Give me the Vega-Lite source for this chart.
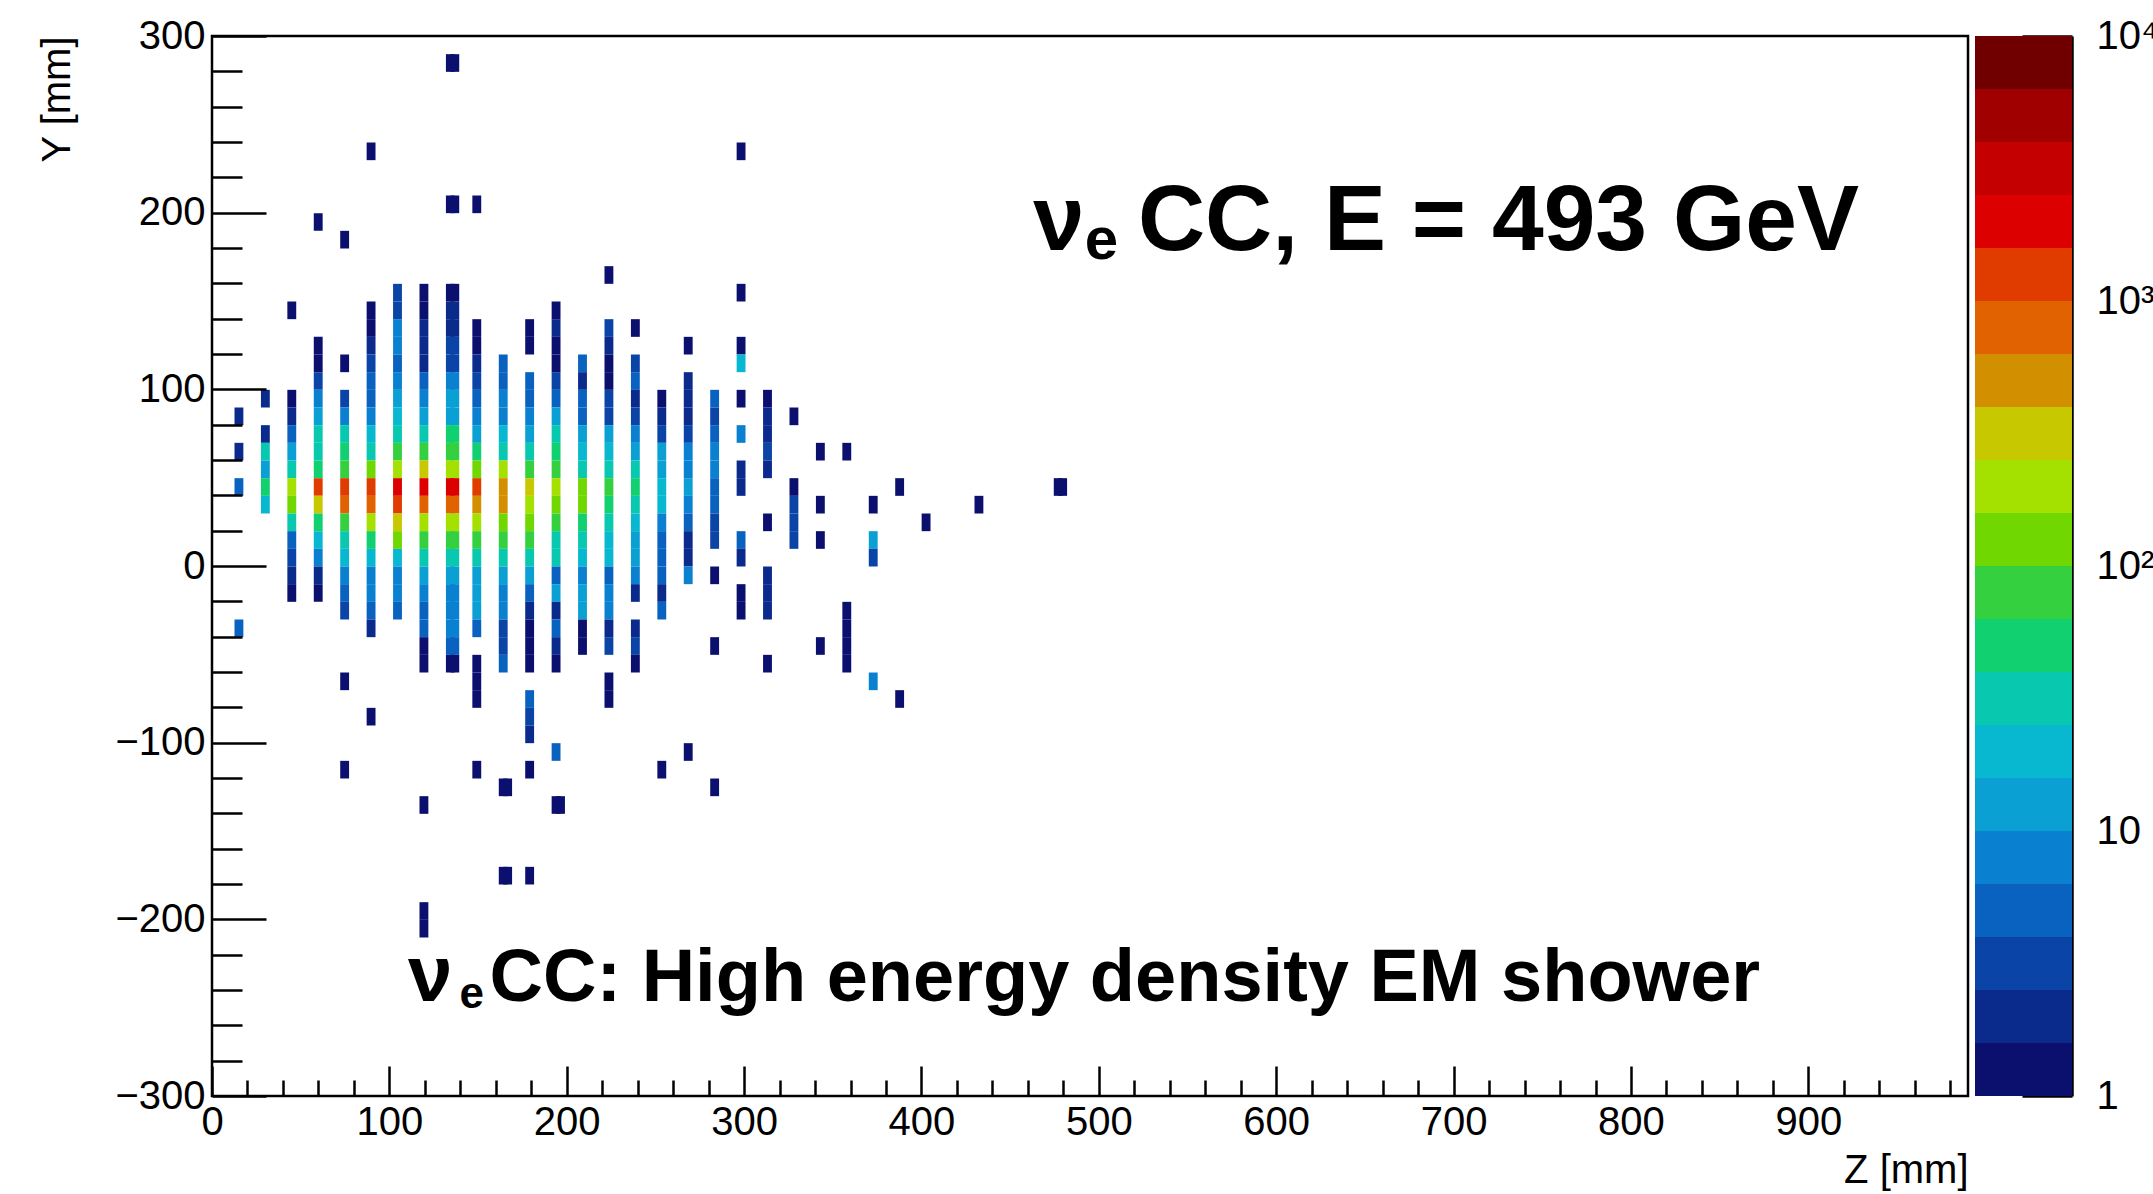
{
  "$schema": "https://vega.github.io/schema/vega-lite/v6.json",
  "background": "white",
  "padding": {"left": 36, "top": 14, "right": 0, "bottom": 0},
  "config": {
    "font": "Liberation Sans",
    "view": {"stroke": null},
    "concat": {"spacing": 5},
    "axis": {"labelFont": "Liberation Sans", "titleFont": "Liberation Sans", "labelColor": "#000", "titleColor": "#000", "tickColor": "#000", "domainColor": "#000", "grid": false}
  },
  "datasets": {
    "hits": [
      {"z":12.4,"y":80,"e":2},{"z":12.4,"y":60,"e":2},{"z":12.4,"y":40,"e":5},{"z":12.4,"y":-40,"e":5},
      {"z":27.3,"y":90,"e":2},{"z":27.3,"y":70,"e":2},{"z":27.3,"y":60,"e":32},{"z":27.3,"y":50,"e":13},{"z":27.3,"y":40,"e":50},{"z":27.3,"y":30,"e":20},
      {"z":42.2,"y":140,"e":1.3},{"z":42.2,"y":90,"e":1.3},{"z":42.2,"y":80,"e":2},{"z":42.2,"y":70,"e":5},{"z":42.2,"y":60,"e":13},{"z":42.2,"y":50,"e":32},{"z":42.2,"y":40,"e":200},{"z":42.2,"y":30,"e":130},{"z":42.2,"y":20,"e":32},{"z":42.2,"y":10,"e":5},{"z":42.2,"y":0,"e":3.2},{"z":42.2,"y":-10,"e":2},{"z":42.2,"y":-20,"e":1.3},
      {"z":57.1,"y":190,"e":1.3},{"z":57.1,"y":120,"e":1.3},{"z":57.1,"y":110,"e":1.3},{"z":57.1,"y":100,"e":3.2},{"z":57.1,"y":90,"e":8},{"z":57.1,"y":80,"e":13},{"z":57.1,"y":70,"e":32},{"z":57.1,"y":60,"e":32},{"z":57.1,"y":50,"e":50},{"z":57.1,"y":40,"e":1300},{"z":57.1,"y":30,"e":320},{"z":57.1,"y":20,"e":50},{"z":57.1,"y":10,"e":20},{"z":57.1,"y":0,"e":8},{"z":57.1,"y":-10,"e":2},{"z":57.1,"y":-20,"e":1.3},
      {"z":72.0,"y":180,"e":1.3},{"z":72.0,"y":110,"e":1.3},{"z":72.0,"y":90,"e":3.2},{"z":72.0,"y":80,"e":8},{"z":72.0,"y":70,"e":32},{"z":72.0,"y":60,"e":50},{"z":72.0,"y":50,"e":80},{"z":72.0,"y":40,"e":1300},{"z":72.0,"y":30,"e":800},{"z":72.0,"y":20,"e":80},{"z":72.0,"y":10,"e":32},{"z":72.0,"y":0,"e":20},{"z":72.0,"y":-10,"e":8},{"z":72.0,"y":-20,"e":5},{"z":72.0,"y":-30,"e":3.2},{"z":72.0,"y":-70,"e":1.3},{"z":72.0,"y":-120,"e":1.3},
      {"z":86.9,"y":230,"e":1.3},{"z":86.9,"y":140,"e":1.3},{"z":86.9,"y":130,"e":1.3},{"z":86.9,"y":120,"e":2},{"z":86.9,"y":110,"e":3.2},{"z":86.9,"y":100,"e":5},{"z":86.9,"y":90,"e":5},{"z":86.9,"y":80,"e":8},{"z":86.9,"y":70,"e":20},{"z":86.9,"y":60,"e":32},{"z":86.9,"y":50,"e":130},{"z":86.9,"y":40,"e":1300},{"z":86.9,"y":30,"e":800},{"z":86.9,"y":20,"e":200},{"z":86.9,"y":10,"e":50},{"z":86.9,"y":0,"e":20},{"z":86.9,"y":-10,"e":8},{"z":86.9,"y":-20,"e":8},{"z":86.9,"y":-30,"e":5},{"z":86.9,"y":-40,"e":2},{"z":86.9,"y":-90,"e":1.3},
      {"z":101.8,"y":150,"e":3.2},{"z":101.8,"y":140,"e":3.2},{"z":101.8,"y":130,"e":8},{"z":101.8,"y":120,"e":8},{"z":101.8,"y":110,"e":5},{"z":101.8,"y":100,"e":8},{"z":101.8,"y":90,"e":13},{"z":101.8,"y":80,"e":20},{"z":101.8,"y":70,"e":32},{"z":101.8,"y":60,"e":80},{"z":101.8,"y":50,"e":200},{"z":101.8,"y":40,"e":2000},{"z":101.8,"y":30,"e":1300},{"z":101.8,"y":20,"e":320},{"z":101.8,"y":10,"e":130},{"z":101.8,"y":0,"e":20},{"z":101.8,"y":-10,"e":8},{"z":101.8,"y":-20,"e":8},{"z":101.8,"y":-30,"e":5},
      {"z":116.7,"y":150,"e":1.3},{"z":116.7,"y":140,"e":1.3},{"z":116.7,"y":130,"e":2},{"z":116.7,"y":120,"e":2},{"z":116.7,"y":110,"e":2},{"z":116.7,"y":100,"e":5},{"z":116.7,"y":90,"e":8},{"z":116.7,"y":80,"e":13},{"z":116.7,"y":70,"e":32},{"z":116.7,"y":60,"e":80},{"z":116.7,"y":50,"e":320},{"z":116.7,"y":40,"e":2000},{"z":116.7,"y":30,"e":800},{"z":116.7,"y":20,"e":200},{"z":116.7,"y":10,"e":80},{"z":116.7,"y":0,"e":32},{"z":116.7,"y":-10,"e":13},{"z":116.7,"y":-20,"e":8},{"z":116.7,"y":-30,"e":5},{"z":116.7,"y":-40,"e":5},{"z":116.7,"y":-50,"e":1.3},{"z":116.7,"y":-60,"e":1.3},{"z":116.7,"y":-140,"e":1.3},{"z":116.7,"y":-200,"e":1.3},{"z":116.7,"y":-210,"e":1.3},
      {"z":131.6,"y":280,"e":1.3},{"z":131.6,"y":200,"e":1.3},{"z":131.6,"y":150,"e":1.3},{"z":131.6,"y":140,"e":2},{"z":131.6,"y":130,"e":2},{"z":131.6,"y":120,"e":3.2},{"z":131.6,"y":110,"e":3.2},{"z":131.6,"y":100,"e":8},{"z":131.6,"y":90,"e":13},{"z":131.6,"y":80,"e":13},{"z":131.6,"y":70,"e":50},{"z":131.6,"y":60,"e":80},{"z":131.6,"y":50,"e":200},{"z":131.6,"y":40,"e":2000},{"z":131.6,"y":30,"e":800},{"z":131.6,"y":20,"e":200},{"z":131.6,"y":10,"e":80},{"z":131.6,"y":0,"e":32},{"z":131.6,"y":-10,"e":13},{"z":131.6,"y":-20,"e":8},{"z":131.6,"y":-30,"e":8},{"z":131.6,"y":-40,"e":8},{"z":131.6,"y":-50,"e":5},{"z":131.6,"y":-60,"e":1.3},
      {"z":134.1,"y":280,"e":1.3},{"z":134.1,"y":200,"e":1.3},{"z":134.1,"y":150,"e":1.3},{"z":134.1,"y":140,"e":2},{"z":134.1,"y":130,"e":2},{"z":134.1,"y":120,"e":3.2},{"z":134.1,"y":110,"e":3.2},{"z":134.1,"y":100,"e":8},{"z":134.1,"y":90,"e":13},{"z":134.1,"y":80,"e":13},{"z":134.1,"y":70,"e":50},{"z":134.1,"y":60,"e":80},{"z":134.1,"y":50,"e":200},{"z":134.1,"y":40,"e":2000},{"z":134.1,"y":30,"e":800},{"z":134.1,"y":20,"e":200},{"z":134.1,"y":10,"e":80},{"z":134.1,"y":0,"e":32},{"z":134.1,"y":-10,"e":13},{"z":134.1,"y":-20,"e":8},{"z":134.1,"y":-30,"e":8},{"z":134.1,"y":-40,"e":8},{"z":134.1,"y":-50,"e":5},{"z":134.1,"y":-60,"e":1.3},
      {"z":146.5,"y":200,"e":1.3},{"z":146.5,"y":130,"e":1.3},{"z":146.5,"y":120,"e":1.3},{"z":146.5,"y":110,"e":2},{"z":146.5,"y":100,"e":3.2},{"z":146.5,"y":90,"e":5},{"z":146.5,"y":80,"e":8},{"z":146.5,"y":70,"e":13},{"z":146.5,"y":60,"e":50},{"z":146.5,"y":50,"e":130},{"z":146.5,"y":40,"e":1300},{"z":146.5,"y":30,"e":500},{"z":146.5,"y":20,"e":200},{"z":146.5,"y":10,"e":80},{"z":146.5,"y":0,"e":32},{"z":146.5,"y":-10,"e":13},{"z":146.5,"y":-20,"e":13},{"z":146.5,"y":-30,"e":13},{"z":146.5,"y":-40,"e":5},{"z":146.5,"y":-60,"e":1.3},{"z":146.5,"y":-70,"e":1.3},{"z":146.5,"y":-80,"e":1.3},{"z":146.5,"y":-120,"e":1.3},
      {"z":161.4,"y":110,"e":5},{"z":161.4,"y":100,"e":5},{"z":161.4,"y":90,"e":8},{"z":161.4,"y":80,"e":8},{"z":161.4,"y":70,"e":20},{"z":161.4,"y":60,"e":32},{"z":161.4,"y":50,"e":200},{"z":161.4,"y":40,"e":500},{"z":161.4,"y":30,"e":500},{"z":161.4,"y":20,"e":130},{"z":161.4,"y":10,"e":80},{"z":161.4,"y":0,"e":32},{"z":161.4,"y":-10,"e":13},{"z":161.4,"y":-20,"e":8},{"z":161.4,"y":-30,"e":8},{"z":161.4,"y":-40,"e":3.2},{"z":161.4,"y":-50,"e":3.2},{"z":161.4,"y":-60,"e":5},{"z":161.4,"y":-130,"e":1.3},{"z":161.4,"y":-180,"e":1.3},{"z":163.9,"y":-130,"e":1.3},{"z":163.9,"y":-180,"e":1.3},
      {"z":176.3,"y":130,"e":1.3},{"z":176.3,"y":120,"e":1.3},{"z":176.3,"y":100,"e":5},{"z":176.3,"y":90,"e":5},{"z":176.3,"y":80,"e":8},{"z":176.3,"y":70,"e":13},{"z":176.3,"y":60,"e":32},{"z":176.3,"y":50,"e":80},{"z":176.3,"y":40,"e":320},{"z":176.3,"y":30,"e":200},{"z":176.3,"y":20,"e":130},{"z":176.3,"y":10,"e":80},{"z":176.3,"y":0,"e":32},{"z":176.3,"y":-10,"e":13},{"z":176.3,"y":-20,"e":5},{"z":176.3,"y":-30,"e":2},{"z":176.3,"y":-40,"e":1.3},{"z":176.3,"y":-50,"e":1.3},{"z":176.3,"y":-60,"e":1.3},{"z":176.3,"y":-80,"e":5},{"z":176.3,"y":-90,"e":3.2},{"z":176.3,"y":-100,"e":2},{"z":176.3,"y":-120,"e":1.3},{"z":176.3,"y":-180,"e":1.3},
      {"z":191.2,"y":140,"e":1.3},{"z":191.2,"y":130,"e":2},{"z":191.2,"y":120,"e":1.3},{"z":191.2,"y":110,"e":1.3},{"z":191.2,"y":100,"e":3.2},{"z":191.2,"y":90,"e":5},{"z":191.2,"y":80,"e":13},{"z":191.2,"y":70,"e":32},{"z":191.2,"y":60,"e":50},{"z":191.2,"y":50,"e":80},{"z":191.2,"y":40,"e":200},{"z":191.2,"y":30,"e":130},{"z":191.2,"y":20,"e":80},{"z":191.2,"y":10,"e":32},{"z":191.2,"y":0,"e":32},{"z":191.2,"y":-10,"e":5},{"z":191.2,"y":-20,"e":13},{"z":191.2,"y":-30,"e":2},{"z":191.2,"y":-40,"e":5},{"z":191.2,"y":-50,"e":2},{"z":191.2,"y":-60,"e":1.3},{"z":191.2,"y":-110,"e":5},{"z":191.2,"y":-140,"e":1.3},{"z":193.7,"y":-140,"e":1.3},
      {"z":206.1,"y":110,"e":5},{"z":206.1,"y":100,"e":2},{"z":206.1,"y":90,"e":5},{"z":206.1,"y":80,"e":5},{"z":206.1,"y":70,"e":13},{"z":206.1,"y":60,"e":20},{"z":206.1,"y":50,"e":32},{"z":206.1,"y":40,"e":130},{"z":206.1,"y":30,"e":130},{"z":206.1,"y":20,"e":50},{"z":206.1,"y":10,"e":32},{"z":206.1,"y":0,"e":20},{"z":206.1,"y":-10,"e":8},{"z":206.1,"y":-20,"e":13},{"z":206.1,"y":-30,"e":13},{"z":206.1,"y":-40,"e":1.3},{"z":206.1,"y":-50,"e":1.3},
      {"z":221.0,"y":160,"e":1.3},{"z":221.0,"y":130,"e":3.2},{"z":221.0,"y":120,"e":2},{"z":221.0,"y":110,"e":1.3},{"z":221.0,"y":100,"e":1.3},{"z":221.0,"y":90,"e":3.2},{"z":221.0,"y":80,"e":3.2},{"z":221.0,"y":70,"e":13},{"z":221.0,"y":60,"e":20},{"z":221.0,"y":50,"e":32},{"z":221.0,"y":40,"e":80},{"z":221.0,"y":30,"e":50},{"z":221.0,"y":20,"e":32},{"z":221.0,"y":10,"e":20},{"z":221.0,"y":0,"e":20},{"z":221.0,"y":-10,"e":5},{"z":221.0,"y":-20,"e":8},{"z":221.0,"y":-30,"e":8},{"z":221.0,"y":-40,"e":2},{"z":221.0,"y":-50,"e":3.2},{"z":221.0,"y":-70,"e":1.3},{"z":221.0,"y":-80,"e":1.3},
      {"z":235.9,"y":130,"e":1.3},{"z":235.9,"y":110,"e":3.2},{"z":235.9,"y":100,"e":5},{"z":235.9,"y":90,"e":2},{"z":235.9,"y":80,"e":3.2},{"z":235.9,"y":70,"e":8},{"z":235.9,"y":60,"e":13},{"z":235.9,"y":50,"e":32},{"z":235.9,"y":40,"e":50},{"z":235.9,"y":30,"e":32},{"z":235.9,"y":20,"e":20},{"z":235.9,"y":10,"e":13},{"z":235.9,"y":0,"e":13},{"z":235.9,"y":-10,"e":8},{"z":235.9,"y":-20,"e":2},{"z":235.9,"y":-40,"e":2},{"z":235.9,"y":-50,"e":3.2},{"z":235.9,"y":-60,"e":1.3},
      {"z":250.8,"y":90,"e":1.3},{"z":250.8,"y":80,"e":2},{"z":250.8,"y":70,"e":3.2},{"z":250.8,"y":60,"e":13},{"z":250.8,"y":50,"e":13},{"z":250.8,"y":40,"e":20},{"z":250.8,"y":30,"e":20},{"z":250.8,"y":20,"e":8},{"z":250.8,"y":10,"e":5},{"z":250.8,"y":0,"e":5},{"z":250.8,"y":-10,"e":5},{"z":250.8,"y":-20,"e":2},{"z":250.8,"y":-30,"e":5},{"z":250.8,"y":-120,"e":1.3},
      {"z":265.7,"y":120,"e":1.3},{"z":265.7,"y":100,"e":2},{"z":265.7,"y":90,"e":2},{"z":265.7,"y":80,"e":2},{"z":265.7,"y":70,"e":3.2},{"z":265.7,"y":60,"e":8},{"z":265.7,"y":50,"e":8},{"z":265.7,"y":40,"e":13},{"z":265.7,"y":30,"e":8},{"z":265.7,"y":20,"e":5},{"z":265.7,"y":10,"e":2},{"z":265.7,"y":0,"e":2},{"z":265.7,"y":-10,"e":8},{"z":265.7,"y":-110,"e":1.3},
      {"z":280.6,"y":90,"e":5},{"z":280.6,"y":80,"e":3.2},{"z":280.6,"y":70,"e":5},{"z":280.6,"y":60,"e":8},{"z":280.6,"y":50,"e":8},{"z":280.6,"y":40,"e":5},{"z":280.6,"y":30,"e":5},{"z":280.6,"y":20,"e":3.2},{"z":280.6,"y":10,"e":3.2},{"z":280.6,"y":-10,"e":1.3},{"z":280.6,"y":-50,"e":1.3},{"z":280.6,"y":-130,"e":1.3},
      {"z":295.5,"y":230,"e":1.3},{"z":295.5,"y":150,"e":1.3},{"z":295.5,"y":120,"e":1.3},{"z":295.5,"y":110,"e":20},{"z":295.5,"y":90,"e":1.3},{"z":295.5,"y":70,"e":8},{"z":295.5,"y":50,"e":2},{"z":295.5,"y":40,"e":2},{"z":295.5,"y":10,"e":5},{"z":295.5,"y":0,"e":2},{"z":295.5,"y":-20,"e":1.3},{"z":295.5,"y":-30,"e":1.3},
      {"z":310.4,"y":90,"e":1.3},{"z":310.4,"y":80,"e":2},{"z":310.4,"y":70,"e":2},{"z":310.4,"y":60,"e":3.2},{"z":310.4,"y":50,"e":2},{"z":310.4,"y":20,"e":1.3},{"z":310.4,"y":-10,"e":2},{"z":310.4,"y":-20,"e":2},{"z":310.4,"y":-30,"e":2},{"z":310.4,"y":-60,"e":1.3},
      {"z":325.3,"y":80,"e":1.3},{"z":325.3,"y":40,"e":1.3},{"z":325.3,"y":30,"e":3.2},{"z":325.3,"y":20,"e":3.2},{"z":325.3,"y":10,"e":3.2},
      {"z":340.2,"y":60,"e":1.3},{"z":340.2,"y":30,"e":1.3},{"z":340.2,"y":10,"e":1.3},{"z":340.2,"y":-50,"e":1.3},
      {"z":355.1,"y":60,"e":1.3},{"z":355.1,"y":-30,"e":1.3},{"z":355.1,"y":-40,"e":1.3},{"z":355.1,"y":-50,"e":1.3},{"z":355.1,"y":-60,"e":1.3},
      {"z":370.0,"y":30,"e":1.3},{"z":370.0,"y":10,"e":13},{"z":370.0,"y":0,"e":3.2},{"z":370.0,"y":-70,"e":8},
      {"z":384.9,"y":40,"e":1.3},{"z":384.9,"y":-80,"e":1.3},
      {"z":399.8,"y":20,"e":1.3},
      {"z":429.6,"y":30,"e":1.3},
      {"z":474.3,"y":40,"e":1.3},{"z":476.8,"y":40,"e":1.3}
    ],
    "bands": [
      {"lo":1,"hi":1.585},{"lo":1.585,"hi":2.512},{"lo":2.512,"hi":3.981},{"lo":3.981,"hi":6.31},{"lo":6.31,"hi":10},
      {"lo":10,"hi":15.85},{"lo":15.85,"hi":25.12},{"lo":25.12,"hi":39.81},{"lo":39.81,"hi":63.1},{"lo":63.1,"hi":100},
      {"lo":100,"hi":158.5},{"lo":158.5,"hi":251.2},{"lo":251.2,"hi":398.1},{"lo":398.1,"hi":631},{"lo":631,"hi":1000},
      {"lo":1000,"hi":1585},{"lo":1585,"hi":2512},{"lo":2512,"hi":3981},{"lo":3981,"hi":6310},{"lo":6310,"hi":10000}
    ]
  },
  "hconcat": [
    {
      "width": 1756,
      "height": 1060,
      "view": {"stroke": "#000", "strokeWidth": 2.5},
      "layer": [
        {
          "data": {"name": "hits"},
          "mark": {"type": "rect", "binSpacing": 0},
          "encoding": {
            "x": {
              "field": "z", "type": "quantitative", "bin": {"binned": true, "step": 5},
              "scale": {"domain": [0, 990], "nice": false, "zero": false},
              "axis": {
                "title": "Z [mm]", "titleAnchor": "end", "titleFontSize": 40, "titleFontWeight": "normal", "titlePadding": -6,
                "values": [0,20,40,60,80,100,120,140,160,180,200,220,240,260,280,300,320,340,360,380,400,420,440,460,480,500,520,540,560,580,600,620,640,660,680,700,720,740,760,780,800,820,840,860,880,900,920,940,960,980],
                "labelExpr": "datum.value % 100 === 0 ? datum.label : ''",
                "tickSize": {"condition": {"test": "datum.value % 100 === 0", "value": -30}, "value": -16},
                "tickWidth": 2.5,
                "labelPadding": 36, "labelFontSize": 40, "labelFlush": false, "labelOverlap": false,
                "domain": false
              }
            },
            "y": {
              "field": "y", "type": "quantitative", "bin": {"binned": true, "step": 10},
              "scale": {"domain": [-300, 300], "nice": false, "zero": false},
              "axis": {
                "title": "Y [mm]", "titleAnchor": "end", "titleFontSize": 40, "titleFontWeight": "normal", "titlePadding": 37,
                "values": [-300,-280,-260,-240,-220,-200,-180,-160,-140,-120,-100,-80,-60,-40,-20,0,20,40,60,80,100,120,140,160,180,200,220,240,260,280,300],
                "labelExpr": "datum.value % 100 === 0 ? datum.label : ''",
                "tickSize": {"condition": {"test": "datum.value % 100 === 0", "value": -54}, "value": -30},
                "tickWidth": 2.5,
                "labelPadding": 61, "labelFontSize": 40, "labelOverlap": false, "labelFlush": false,
                "domain": false
              }
            },
            "color": {
              "field": "e", "type": "quantitative", "legend": null,
              "scale": {
                "type": "threshold",
                "domain": [1.585,2.512,3.981,6.31,10,15.85,25.12,39.81,63.1,100,158.5,251.2,398.1,631,1000,1585,2512,3981,6310],
                "range": ["#0b0f6e","#0a2a8c","#0a44a6","#0a62c0","#0a80d0","#0aa0d4","#08b8d0","#08c8b0","#10d070","#34d040","#70d800","#a4e000","#c8c800","#d29000","#e06200","#e03c00","#dc0000","#c40000","#a00000","#700000"]
              }
            }
          }
        },
        {
          "data": {"values": [{}]},
          "mark": {"type": "text", "text": "ν", "font": "Liberation Sans", "fontWeight": "bold", "fontSize": 92, "align": "left", "baseline": "alphabetic", "color": "#000"},
          "encoding": {"x": {"datum": 463}, "y": {"datum": 179}}
        },
        {
          "data": {"values": [{}]},
          "mark": {"type": "text", "text": "e", "font": "Liberation Sans", "fontWeight": "bold", "fontSize": 60, "align": "left", "baseline": "alphabetic", "color": "#000"},
          "encoding": {"x": {"datum": 492}, "y": {"datum": 174}}
        },
        {
          "data": {"values": [{}]},
          "mark": {"type": "text", "text": "CC, E = 493 GeV", "font": "Liberation Sans", "fontWeight": "bold", "fontSize": 93, "align": "left", "baseline": "alphabetic", "color": "#000"},
          "encoding": {"x": {"datum": 522}, "y": {"datum": 179}}
        },
        {
          "data": {"values": [{}]},
          "mark": {"type": "text", "text": "ν", "font": "Liberation Sans", "fontWeight": "bold", "fontSize": 80, "align": "left", "baseline": "alphabetic", "color": "#000"},
          "encoding": {"x": {"datum": 110.5}, "y": {"datum": -246}}
        },
        {
          "data": {"values": [{}]},
          "mark": {"type": "text", "text": "e", "font": "Liberation Sans", "fontWeight": "bold", "fontSize": 44, "align": "left", "baseline": "alphabetic", "color": "#000"},
          "encoding": {"x": {"datum": 139.5}, "y": {"datum": -250}}
        },
        {
          "data": {"values": [{}]},
          "mark": {"type": "text", "text": "CC: High energy density EM shower", "font": "Liberation Sans", "fontWeight": "bold", "fontSize": 74, "align": "left", "baseline": "alphabetic", "color": "#000"},
          "encoding": {"x": {"datum": 156.5}, "y": {"datum": -246}}
        }
      ]
    },
    {
      "width": 97,
      "height": 1060,
      "data": {"name": "bands"},
      "mark": {"type": "rect"},
      "encoding": {
        "y": {
          "field": "lo", "type": "quantitative",
          "scale": {"type": "log", "domain": [1, 10000], "nice": false},
          "axis": {
            "orient": "right", "title": null,
            "values": [1,2,3,4,5,6,7,8,9,10,20,30,40,50,60,70,80,90,100,200,300,400,500,600,700,800,900,1000,2000,3000,4000,5000,6000,7000,8000,9000,10000],
            "labelExpr": "datum.value == 1 ? '1' : datum.value == 10 ? '10' : datum.value == 100 ? '10²' : datum.value == 1000 ? '10³' : datum.value == 10000 ? '10⁴' : ''",
            "tickSize": {"condition": {"test": "datum.value == 1 || datum.value == 10 || datum.value == 100 || datum.value == 1000 || datum.value == 10000", "value": -50}, "value": -24},
            "tickWidth": 2.5,
            "labelPadding": 74, "labelFontSize": 40, "labelOverlap": false, "labelFlush": false,
            "domain": true, "domainWidth": 2.5
          }
        },
        "y2": {"field": "hi"},
        "color": {
          "field": "lo", "type": "quantitative", "legend": null,
          "scale": {
            "type": "threshold",
            "domain": [1.585,2.512,3.981,6.31,10,15.85,25.12,39.81,63.1,100,158.5,251.2,398.1,631,1000,1585,2512,3981,6310],
            "range": ["#0b0f6e","#0a2a8c","#0a44a6","#0a62c0","#0a80d0","#0aa0d4","#08b8d0","#08c8b0","#10d070","#34d040","#70d800","#a4e000","#c8c800","#d29000","#e06200","#e03c00","#dc0000","#c40000","#a00000","#700000"]
          }
        }
      }
    }
  ]
}
